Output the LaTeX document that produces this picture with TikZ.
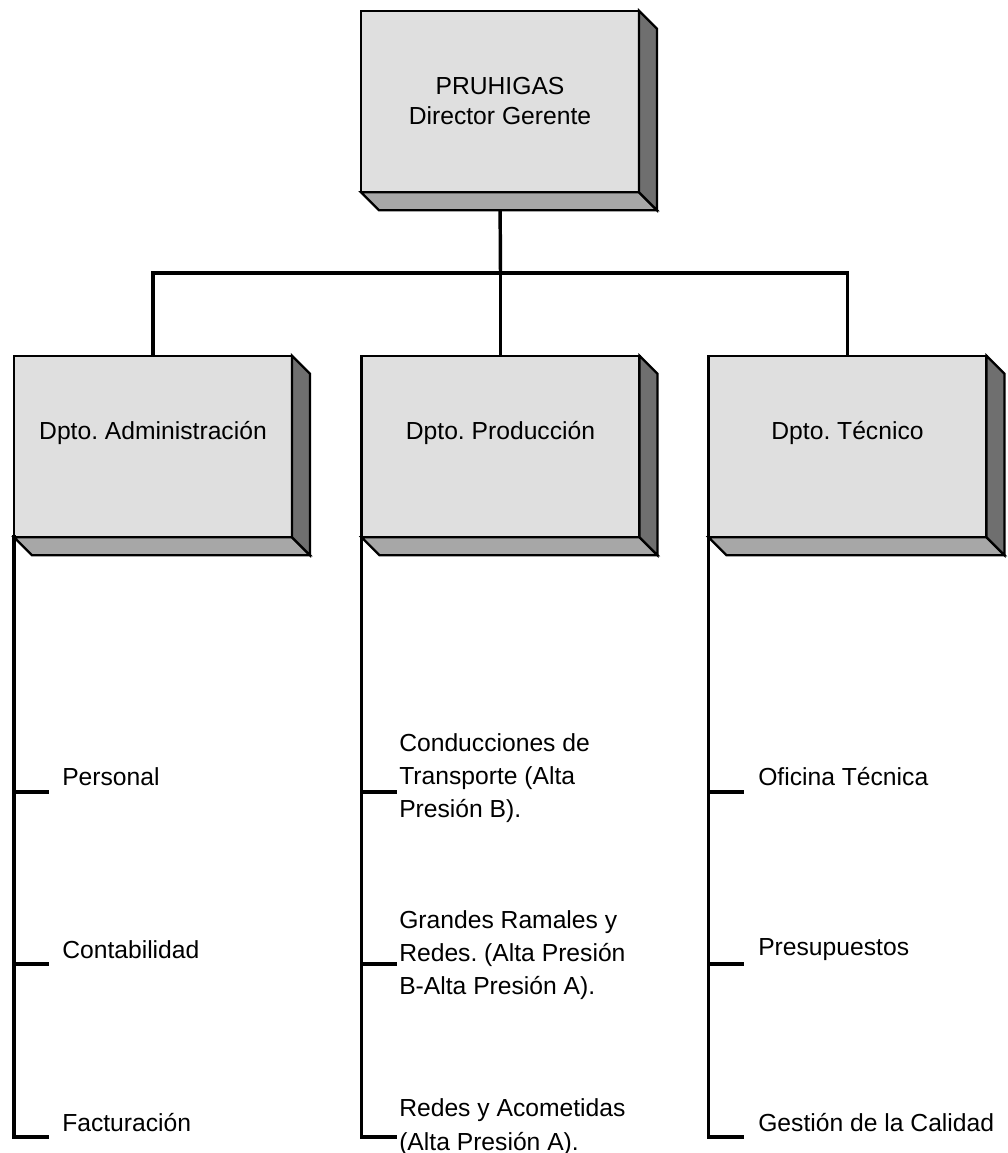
\documentclass[tikz,border=0pt]{standalone}
\usepackage{fontspec}
\setmainfont{Liberation Sans}
\usetikzlibrary{backgrounds}
\frenchspacing

\definecolor{faceGray}{HTML}{DFDFDF}
\definecolor{bottomGray}{HTML}{A7A7A7}
\definecolor{sideGray}{HTML}{6F6F6F}

% the two shaded faces behind a box
\newcommand{\boxdepth}[1]{%
  \filldraw[boxedge,fill=bottomGray] (#1.south west) -- (#1.south east) -- ++(18,18)
    -- ([shift={(18,18)}]#1.south west) -- cycle;
  \filldraw[boxedge,fill=sideGray] (#1.north east) -- ++(18,18)
    -- ([shift={(18,18)}]#1.south east) -- (#1.south east) -- cycle;}

\begin{document}
\begin{tikzpicture}[x=0.75pt,y=-0.75pt,
    boxedge/.style={draw=black,line width=1.7pt,line join=miter},
    orgbox/.style={boxedge,fill=faceGray,rectangle,outer sep=0pt,
      minimum width=208.5pt,minimum height=136pt,align=center,
      font=\fontsize{18.5}{22.5}\selectfont},
    deptlabel/.style={yshift=10.5pt,font=\fontsize{18.5}{22.5}\selectfont},
    link/.style={line width=2.6pt,line cap=rect},
    item/.style={anchor=west,inner sep=0pt,align=left,
      font=\fontsize{18.5}{25}\selectfont}]
  \useasboundingbox (0,0) rectangle (1007,1153);

  % boxes
  \node[orgbox] (top) at (500,101.5) {PRUHIGAS\\Director Gerente};
  \boxdepth{top}
  \node[orgbox,label={[deptlabel]center:Dpto. Administración}] (admin) at (153,446.5) {};
  \boxdepth{admin}
  \node[orgbox,label={[deptlabel]center:Dpto. Producción}] (prod) at (500.5,446.5) {};
  \boxdepth{prod}
  \node[orgbox,label={[deptlabel]center:Dpto. Técnico}] (tech) at (847.5,446.5) {};
  \boxdepth{tech}

  % levels of the sections
  \coordinate (bus) at (500.5,273);
  \coordinate (rowA) at (0,792);
  \coordinate (rowB) at (0,964);
  \coordinate (rowC) at (0,1137);

  % sections
  \node[item] (personal) at (62,777) {Personal};
  \node[item] (contab) at (62,950) {Contabilidad};
  \node[item] (factur) at (62,1123) {Facturación};
  \node[item] (conduc) at (399,778) {Conducciones de\\Transporte (Alta\\Presión B).};
  \node[item] (ramales) at (399,955) {Grandes Ramales y\\Redes. (Alta Presión\\B-Alta Presión A).};
  \node[item] (acomet) at (399,1127) {Redes y Acometidas\\(Alta Presión A).};
  \node[item] (oficina) at (758,777) {Oficina Técnica};
  \node[item] (presup) at (758,950) {Presupuestos};
  \node[item] (calidad) at (758,1123) {Gestión de la Calidad};

  \begin{scope}[on background layer]
    \draw[link] (top.south) -- (bus);
    \draw[link] (admin.north) |- (bus) -| (tech.north);
    \draw[link] (bus) -- (prod.north);
  \end{scope}

  \draw[link] (admin.south west) -- (admin.south west |- rowC) -- ++(33,0);
  \draw[link] (admin.south west |- rowA) -- ++(33,0);
  \draw[link] (admin.south west |- rowB) -- ++(33,0);

  \draw[link] (prod.south west) -- (prod.south west |- rowC) -- ++(34,0);
  \draw[link] (prod.south west |- rowA) -- ++(34,0);
  \draw[link] (prod.south west |- rowB) -- ++(34,0);

  \draw[link] (tech.south west) -- (tech.south west |- rowC) -- ++(34,0);
  \draw[link] (tech.south west |- rowA) -- ++(34,0);
  \draw[link] (tech.south west |- rowB) -- ++(34,0);
\end{tikzpicture}
\end{document}
